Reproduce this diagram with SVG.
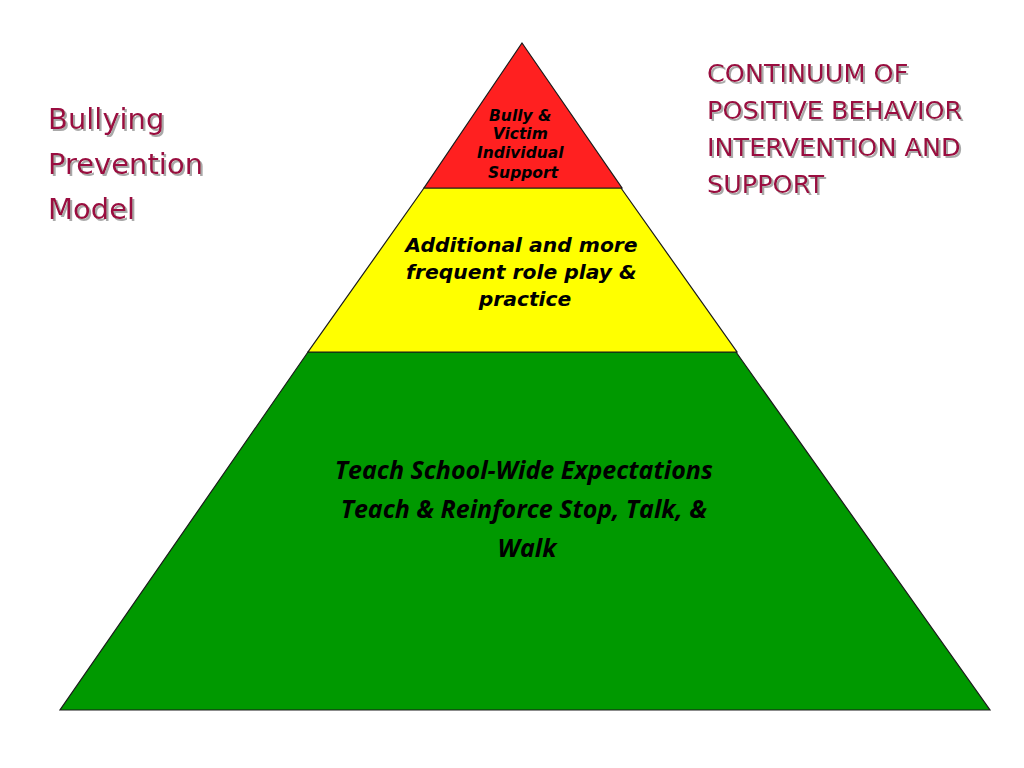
<svg xmlns="http://www.w3.org/2000/svg" width="1024" height="768" viewBox="0 0 1024 768">
  <defs>
    <filter id="sh" x="-10%" y="-20%" width="130%" height="150%">
      <feDropShadow dx="2" dy="2" stdDeviation="0.6" flood-color="#a0a0a0" flood-opacity="0.9"/>
    </filter>
  </defs>
  <style>
    .tier { stroke: #1a1a1a; stroke-width: 1.2; stroke-linejoin: miter; }
    .title { font-family: "DejaVu Sans", Verdana, sans-serif; fill: #9a1040; filter: url(#sh); }
    .lbl { font-family: "DejaVu Sans", Verdana, sans-serif; font-weight: bold; font-style: italic; fill: #000; text-anchor: middle; }
    .glbl { font-family: "Open Sans", "DejaVu Sans", sans-serif; font-weight: bold; font-style: italic; fill: #000; text-anchor: middle; }
  </style>
  <rect width="1024" height="768" fill="#ffffff"/>

  <g id="tier-green">
    <polygon class="tier" fill="#009900" points="308,352 736,352 990,710 60,710"/>
    <text class="glbl" font-size="25">
      <tspan x="527" y="479">Teach School-Wide Expectations</tspan>
      <tspan x="527" y="518">Teach &amp; Reinforce Stop, Talk, &amp;</tspan>
      <tspan x="527" y="557">Walk</tspan>
    </text>
  </g>

  <g id="tier-yellow">
    <polygon class="tier" fill="#ffff00" points="424,188 621,188 737,352 308,352"/>
    <text class="lbl" font-size="20.3">
      <tspan x="525" y="252">Additional and more</tspan>
      <tspan x="525" y="279">frequent role play &amp;</tspan>
      <tspan x="525" y="306">practice</tspan>
    </text>
  </g>

  <g id="tier-red">
    <polygon class="tier" fill="#ff2020" points="522,43 622,188 424,188"/>
    <text class="lbl" font-size="15.5">
      <tspan x="523" y="121">Bully &amp;</tspan>
      <tspan x="523" y="139">Victim</tspan>
      <tspan x="523" y="158">Individual</tspan>
      <tspan x="523" y="178">Support</tspan>
    </text>
  </g>

  <g id="title-left">
    <text class="title" font-size="29">
      <tspan x="48" y="129">Bullying</tspan>
      <tspan x="48" y="174">Prevention</tspan>
      <tspan x="48" y="219">Model</tspan>
    </text>
  </g>

  <g id="title-right">
    <text class="title" font-size="25.5">
      <tspan x="707" y="82">CONTINUUM OF</tspan>
      <tspan x="707" y="119">POSITIVE BEHAVIOR</tspan>
      <tspan x="707" y="156">INTERVENTION AND</tspan>
      <tspan x="707" y="193">SUPPORT</tspan>
    </text>
  </g>
</svg>
